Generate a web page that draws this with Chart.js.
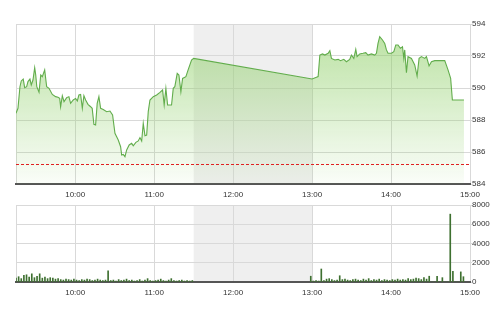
<!DOCTYPE html>
<html><head><meta charset="utf-8">
<script src="https://cdn.jsdelivr.net/npm/chart.js@4/dist/chart.umd.min.js"></script>
<style>
html,body{margin:0;padding:0;background:#fff;width:500px;height:312px;overflow:hidden}
#p{position:absolute;left:0;top:0;width:500px;height:200px}
#v{position:absolute;left:0;top:200px;width:500px;height:112px}
</style></head><body>
<div id="p"><canvas id="c1"></canvas></div>
<div id="v"><canvas id="c2"></canvas></div>
<script>
// times are minutes after 09:00
const priceTimes = [15.0,16.5,18.0,19.0,20.5,21.6,23.1,24.1,25.6,26.6,27.9,29.2,30.0,30.8,32.5,33.8,35.0,36.8,38.3,40.1,42.6,45.1,46.9,48.2,48.9,50.2,51.5,53.5,55.2,56.5,58.5,60.3,61.6,62.8,64.1,65.4,66.6,67.9,69.7,71.7,72.9,74.2,75.5,76.7,78.0,79.3,81.3,83.9,86.4,88.4,90.2,92.7,94.5,95.3,96.5,97.8,99.1,101.0,102.9,104.1,106.1,107.9,109.2,110.5,111.7,113.0,114.3,115.5,116.8,119.3,121.9,124.4,126.4,127.6,128.9,130.2,133.2,134.5,135.7,137.5,138.8,140.3,141.6,144.1,145.8,148.4,150.0,
  240.0,243.3,244.6,245.9,247.9,249.7,252.2,253.5,254.7,257.3,259.8,261.6,264.1,266.1,268.6,269.9,271.7,273.2,274.2,276.2,278.7,280.8,282.5,285.1,287.6,288.9,290.1,291.4,293.5,295.2,296.5,297.7,300.3,302.1,303.6,305.3,307.1,308.7,309.7,310.4,311.7,312.9,315.5,318.0,319.8,321.3,323.1,325.6,326.9,328.9,330.7,333.2,340.8,343.3,345.3,346.6,355.4];
const priceValues = [588.42,588.73,590.08,590.44,590.56,590.02,590.08,590.40,590.56,590.19,590.50,591.27,590.81,590.08,589.73,590.81,590.71,591.13,590.08,589.98,589.60,589.46,589.42,589.35,588.83,589.52,589.15,589.40,589.46,589.04,589.25,589.35,589.19,589.56,589.60,588.73,589.52,589.25,588.98,588.83,588.73,587.73,587.69,589.04,589.46,588.73,588.66,588.52,588.56,588.31,587.17,586.75,586.33,585.81,585.85,585.71,586.13,586.44,586.54,586.39,586.60,586.69,586.90,586.69,587.79,587.02,587.06,588.52,589.25,589.46,589.56,589.73,589.88,588.94,589.98,588.94,588.94,589.98,590.08,590.92,590.81,589.77,590.60,590.71,591.13,591.75,591.85,
  590.56,590.67,590.71,592.06,592.13,592.06,592.17,592.33,591.85,591.75,591.79,591.71,591.79,591.64,591.79,592.06,591.85,592.42,591.96,592.13,592.17,592.21,592.06,592.13,592.06,592.17,592.79,593.21,593.00,592.79,592.38,592.17,592.17,592.27,592.69,592.69,592.48,592.58,591.85,592.38,590.96,591.96,591.85,591.44,590.75,591.85,591.96,591.85,591.96,591.38,591.64,591.71,591.71,591.13,590.60,589.25,589.25];
const refPrice = 585.23;

// volume bars, one every 2 minutes
const volStep = 2;
const volMorningStart = 15;
const volMorning = [400,550,350,700,750,500,850,450,600,850,400,500,350,450,400,300,350,250,200,300,250,200,300,200,150,250,200,300,250,150,200,300,200,150,200,1150,150,200,100,250,150,200,300,150,200,100,150,250,100,200,350,150,100,150,200,300,150,100,200,350,150,100,150,200,100,150,100,150];
const volAfternoonStart = 239;
const volAfternoon = [600,100,150,100,1350,150,300,350,250,150,200,650,250,300,200,150,250,300,200,150,300,200,350,150,250,200,300,150,250,200,150,250,200,300,200,250,200,350,250,300,400,350,250,450,300,600,0,0,600,0,450,0,0,7050,1100,0,0,1050,550];

const priceTicks = [584,586,588,590,592,594];
const volTicks = [0,2000,4000,6000,8000];
const hourTicks = [60,120,180,240,300,360];
const hourLabels = ['10:00','11:00','12:00','13:00','14:00','15:00'];
const breakStart = 150, breakEnd = 240;
const xMin = 15, xMax = 360;

Chart.defaults.font.family = "'Liberation Sans', Arial, sans-serif";
Chart.defaults.font.size = 8;
Chart.defaults.color = '#333';
Chart.defaults.animation = false;

function xAxis(h, pad){
  return {
    type:'linear', min:xMin, max:xMax, offset:false,
    afterBuildTicks: s => { s.ticks = hourTicks.map(v => ({value:v})); },
    ticks:{ callback: v => hourLabels[hourTicks.indexOf(v)], padding:pad, maxRotation:0, autoSkip:false, color:'#333' },
    grid:{ color:'#d9d9d9', drawTicks:false, lineWidth:1, offset:false },
    border:{ display:true, color:'#555', width:2 },
    afterFit: s => { s.height = h; }
  };
}
function yAxis(min, max, ticks){
  return {
    position:'right', min:min, max:max,
    afterBuildTicks: s => { s.ticks = ticks.map(v => ({value:v})); },
    ticks:{ padding:0, color:'#333', callback: v => String(v) },
    grid:{ color:'#d9d9d9', drawTicks:true, tickLength:2, lineWidth:1 },
    border:{ display:false },
    afterFit: s => { s.width = 30; }
  };
}

const deco = {
  id:'deco',
  beforeDraw(chart){
    const {ctx, chartArea:a, scales:{x}} = chart;
    const x0 = x.getPixelForValue(breakStart), x1 = x.getPixelForValue(breakEnd);
    ctx.save();
    ctx.fillStyle = '#efefef';
    ctx.fillRect(x0, a.top, x1 - x0, a.bottom - a.top);
    ctx.strokeStyle = '#d9d9d9'; ctx.lineWidth = 1;
    ctx.beginPath(); ctx.moveTo(a.left + 0.5, a.top); ctx.lineTo(a.left + 0.5, a.bottom); ctx.stroke();
    ctx.restore();
  },
  afterDatasetsDraw(chart){
    if (!chart.options.plugins.deco || !chart.options.plugins.deco.ref) return;
    const {ctx, chartArea:a, scales:{y}} = chart;
    const yy = Math.round(y.getPixelForValue(refPrice)) + 0.5;
    ctx.save();
    ctx.strokeStyle = '#e02020'; ctx.lineWidth = 1; ctx.setLineDash([3,2]);
    ctx.beginPath(); ctx.moveTo(a.left, yy); ctx.lineTo(a.right, yy); ctx.stroke();
    ctx.restore();
  }
};

new Chart(document.getElementById('c1'), {
  type:'line',
  data:{ datasets:[{
    data: priceTimes.map((t,i) => ({x:t, y:priceValues[i]})),
    borderColor:'#62ad4c', borderWidth:1.1, pointRadius:0, tension:0,
    fill:'start',
    backgroundColor: c => {
      const a = c.chart.chartArea; if (!a) return 'rgba(150,210,110,0.4)';
      const g = c.chart.ctx.createLinearGradient(0, a.top, 0, a.bottom);
      g.addColorStop(0, 'rgba(140,206,100,0.62)');
      g.addColorStop(1, 'rgba(140,206,100,0.04)');
      return g;
    }
  }]},
  options:{
    responsive:true, maintainAspectRatio:false,
    layout:{ padding:{left:16, top:24, right:0, bottom:0} },
    plugins:{ legend:{display:false}, tooltip:{enabled:false}, deco:{ref:true} },
    scales:{ x: xAxis(16, 6), y: yAxis(584, 594, priceTicks) }
  },
  plugins:[deco]
});

const volData = volMorning.map((v,i) => ({x: volMorningStart + i*volStep, y:v}))
  .concat(volAfternoon.map((v,i) => ({x: volAfternoonStart + i*volStep, y:v})));

new Chart(document.getElementById('c2'), {
  type:'bar',
  data:{ datasets:[{
    data: volData,
    backgroundColor:'#3e7030', borderWidth:0, barThickness:1
  }]},
  options:{
    responsive:true, maintainAspectRatio:false,
    layout:{ padding:{left:16, top:5, right:0, bottom:0} },
    plugins:{ legend:{display:false}, tooltip:{enabled:false}, deco:{ref:false} },
    scales:{ x: xAxis(30, 6), y: yAxis(0, 8000, volTicks) }
  },
  plugins:[deco]
});
</script>
</body></html>
